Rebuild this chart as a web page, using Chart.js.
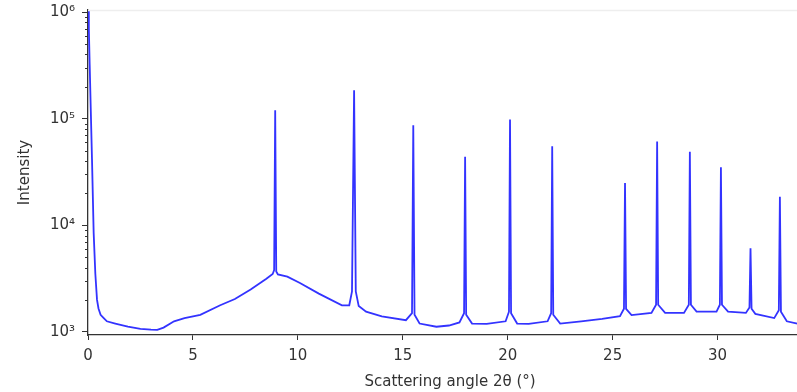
<!DOCTYPE html>
<html>
<head>
<meta charset="utf-8">
<script src="https://cdn.jsdelivr.net/npm/chart.js@4/dist/chart.umd.min.js"></script>
<style>
  html, body { margin: 0; padding: 0; background: #ffffff; overflow: hidden; }
  #wrap { width: 830px; height: 392px; }
</style>
</head>
<body>
<div id="wrap"><canvas id="c" width="830" height="392"></canvas></div>
<script>
// Scattering angle 2θ (degrees)
const angle = [
  0.00, 0.04, 0.08, 0.13, 0.19, 0.27, 0.35, 0.43, 0.50, 0.60, 0.75, 0.90,
  1.30, 1.90, 2.50, 3.00, 3.30, 3.60, 4.10, 4.60, 5.35, 6.30, 7.00, 7.75,
  8.50, 8.80, 8.87, 8.92, 8.97, 9.05, 9.50, 10.10, 11.00, 12.10, 12.45, 12.58,
  12.68, 12.76, 12.90, 13.25, 14.00, 15.15, 15.44, 15.50, 15.56, 15.80, 16.60, 17.20,
  17.70, 17.92, 17.97, 18.02, 18.30, 19.00, 19.90, 20.06, 20.11, 20.16, 20.45, 21.00,
  21.90, 22.07, 22.12, 22.17, 22.50, 23.50, 24.50, 25.35, 25.54, 25.59, 25.64, 25.90,
  26.85, 27.07, 27.12, 27.17, 27.50, 28.40, 28.63, 28.68, 28.73, 29.00, 29.95, 30.11,
  30.16, 30.21, 30.50, 31.35, 31.52, 31.57, 31.62, 31.80, 32.70, 32.92, 32.97, 33.02,
  33.30, 33.80, 34.50
];
// Intensity (counts)
const intensity = [
  1100000, 700000, 320000, 126000, 42000, 8500, 3500, 2000, 1660, 1450, 1350, 1260,
  1200, 1120, 1070, 1050, 1045, 1100, 1260, 1350, 1450, 1780, 2040, 2500,
  3160, 3500, 3800, 120000, 3700, 3470, 3300, 2880, 2290, 1780, 1780, 2400,
  185000, 2400, 1750, 1550, 1400, 1290, 1500, 87000, 1450, 1200, 1120, 1150,
  1230, 1500, 44000, 1450, 1200, 1190, 1260, 1550, 98000, 1500, 1200, 1190,
  1260, 1500, 55000, 1450, 1200, 1260, 1330, 1410, 1650, 25000, 1650, 1440,
  1510, 1800, 61000, 1800, 1510, 1510, 1800, 49000, 1800, 1550, 1550, 1800,
  35000, 1800, 1550, 1510, 1700, 6100, 1650, 1480, 1350, 1600, 18500, 1550,
  1260, 1200, 1170
];
// Axis ticks
const xTicks = [0, 5, 10, 15, 20, 25, 30];
const yMajorTicks = [1e3, 1e4, 1e5, 1e6];
const yTickLabels = ['10³', '10⁴', '10⁵', '10⁶'];
const yMinorMultipliers = [2, 3, 4, 5, 6, 7, 8, 9];

const X_MIN = 0, X_MAX = 34.5;
const Y_MIN = 937, Y_MAX = 1.045e6;

const points = angle.map((a, i) => ({ x: a, y: intensity[i] }));

const axisColor = '#333333';
const fontFamily = "'DejaVu Sans', sans-serif";

const extras = {
  id: 'extras',
  afterDraw(chart) {
    const ctx = chart.ctx;
    const ys = chart.scales.y;
    const area = chart.chartArea;
    ctx.save();
    // faint top frame line
    ctx.strokeStyle = '#eeeeee';
    ctx.lineWidth = 1.5;
    ctx.beginPath();
    ctx.moveTo(area.left, area.top + 0.5);
    ctx.lineTo(area.right, area.top + 0.5);
    ctx.stroke();
    // minor log ticks
    ctx.strokeStyle = axisColor;
    ctx.lineWidth = 1;
    yMajorTicks.forEach(dec => {
      yMinorMultipliers.forEach(m => {
        const v = dec * m;
        if (v < ys.min || v > ys.max) return;
        const y = Math.round(ys.getPixelForValue(v)) + 0.5;
        ctx.beginPath();
        ctx.moveTo(area.left - 3, y);
        ctx.lineTo(area.left, y);
        ctx.stroke();
      });
    });
    ctx.restore();
  }
};

new Chart(document.getElementById('c'), {
  type: 'line',
  data: {
    datasets: [{
      data: points,
      borderColor: '#3333ff',
      borderWidth: 1.8,
      pointRadius: 0,
      tension: 0,
      fill: false
    }]
  },
  options: {
    responsive: false,
    animation: false,
    devicePixelRatio: 1,
    layout: { autoPadding: false, padding: { top: 10, right: 18, left: 0, bottom: 0 } },
    plugins: { legend: { display: false }, tooltip: { enabled: false } },
    scales: {
      x: {
        type: 'linear',
        min: X_MIN,
        max: X_MAX,
        afterBuildTicks(scale) { scale.ticks = xTicks.map(v => ({ value: v })); },
        afterFit(scale) { scale.height = 57; scale.paddingLeft = 0; scale.paddingRight = 0; },
        border: { color: axisColor, width: 1.3 },
        grid: { drawOnChartArea: false, drawTicks: true, tickLength: 5, tickColor: axisColor },
        ticks: { color: '#333', padding: 7, font: { family: fontFamily, size: 15 }, maxRotation: 0 },
        title: {
          display: true,
          text: 'Scattering angle 2θ (°)',
          color: '#333',
          font: { family: fontFamily, size: 15 },
          padding: { top: 0, bottom: 1 }
        }
      },
      y: {
        type: 'logarithmic',
        min: Y_MIN,
        max: Y_MAX,
        afterBuildTicks(scale) { scale.ticks = yMajorTicks.map(v => ({ value: v })); },
        afterFit(scale) { scale.width = 88; scale.paddingTop = 0; scale.paddingBottom = 0; },
        border: { color: axisColor, width: 1.3 },
        grid: { drawOnChartArea: false, drawTicks: true, tickLength: 6, tickColor: axisColor },
        ticks: {
          color: '#333',
          padding: 7,
          font: { family: fontFamily, size: 15 },
          callback(value) {
            const i = yMajorTicks.indexOf(value);
            return i >= 0 ? yTickLabels[i] : '';
          }
        },
        title: {
          display: true,
          text: 'Intensity',
          color: '#333',
          font: { family: fontFamily, size: 15 },
          padding: { top: 16, bottom: 0 }
        }
      }
    }
  },
  plugins: [extras]
});
</script>
</body>
</html>
